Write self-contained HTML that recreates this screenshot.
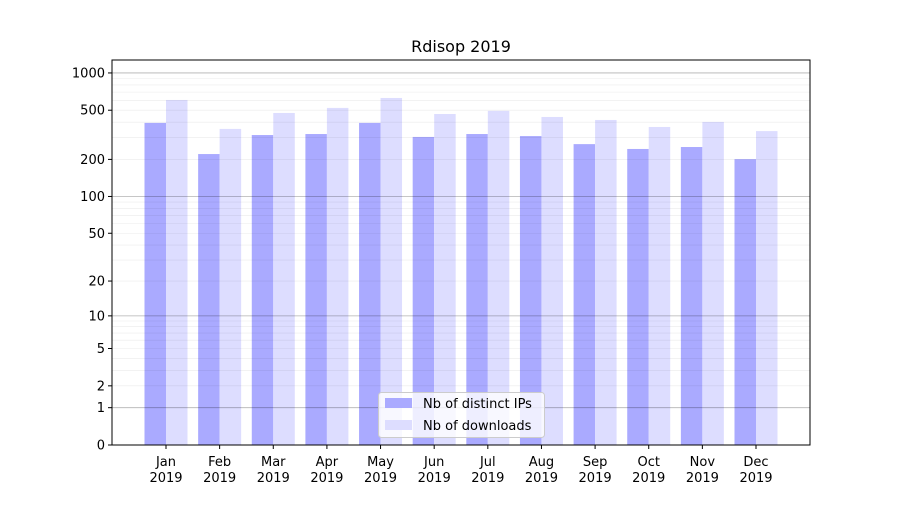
<!DOCTYPE html>
<html><head><meta charset="utf-8"><style>
body{margin:0;background:#fff;font-family:"Liberation Sans","DejaVu Sans",sans-serif;}
svg text{font-family:"DejaVu Sans","Liberation Sans",sans-serif;font-size:13px;fill:#000;}
</style></head><body>
<svg id="chart" width="900" height="500" xmlns="http://www.w3.org/2000/svg">
<rect width="900" height="500" fill="#fff"/>
<text x="461" y="52" text-anchor="middle" style="font-size:16px">Rdisop 2019</text>
<g id="bars"></g><g id="grid"></g><g id="axes"></g>
</svg>
<script>
const months = ["Jan","Feb","Mar","Apr","May","Jun","Jul","Aug","Sep","Oct","Nov","Dec"];
const ips = [395,221,315,321,395,304,321,309,266,243,252,201];
const downloads = [605,353,475,522,628,466,494,441,417,366,402,339];
const yTicks = [0,1,2,5,10,20,50,100,200,500,1000];
const NS="http://www.w3.org/2000/svg";
const L=112,R=810,T=60,B=445;
function y(v){return B-124*Math.log10(1+v);}
function x(i){return 166+i*(756-166)/11;}
function mk(tag,attrs,parent){const e=document.createElementNS(NS,tag);for(const k in attrs)e.setAttribute(k,attrs[k]);document.getElementById(parent).appendChild(e);return e;}
// grid
[1,10,100].forEach(d=>{for(let k=1;k<10;k++){const v=d*k;const yy=y(v);const major=k===1;
 const g=mk('line',{x1:L,x2:R,y1:yy,y2:yy,stroke:major?'#000':'#000','stroke-opacity':major?0.3:0.08,'stroke-width':major?0.8:0.6},'grid');
 
 }});
const g1000=mk('line',{x1:L,x2:R,y1:y(1000),y2:y(1000),stroke:'#000','stroke-opacity':0.3,'stroke-width':0.8},'grid');


// bars
const bw=21.5;
months.forEach((m,i)=>{
 const a=mk('rect',{x:x(i)-bw,y:y(ips[i]),width:bw,height:B-y(ips[i]),fill:'#aaaaff'},'bars');
 
 
 const b=mk('rect',{x:x(i),y:y(downloads[i]),width:bw,height:B-y(downloads[i]),fill:'#ddddff'},'bars');
 
 
 const t1=mk('line',{x1:x(i),x2:x(i),y1:B,y2:B+4,stroke:'#000'},'axes');
 
 
 const tx=mk('text',{x:x(i),y:B+21,'text-anchor':'middle'},'axes');tx.textContent=m;
 
 
 const ty=mk('text',{x:x(i),y:B+37,'text-anchor':'middle'},'axes');ty.textContent='2019';
 
 
});
yTicks.forEach(v=>{
 const t=mk('line',{x1:L-4,x2:L,y1:y(v),y2:y(v),stroke:'#000'},'axes');
 
 
 const tx=mk('text',{x:L-7,y:y(v)+4.5,'text-anchor':'end'},'axes');tx.textContent=v;
 
 
});
const fr=mk('rect',{x:L,y:T,width:R-L,height:B-T,fill:'none',stroke:'#000','stroke-width':1},'axes');


// legend
const lg=mk('rect',{x:378.5,y:392.5,width:166,height:45,rx:3,fill:'#fff','fill-opacity':0.8,stroke:'#ccc'},'axes');


[['#aaaaff','Nb of distinct IPs',398],['#ddddff','Nb of downloads',420]].forEach(([c,l,yy])=>{
 const s=mk('rect',{x:385,y:yy,width:27,height:10,fill:c},'axes');
 
 
 const t=mk('text',{x:423,y:yy+10},'axes');t.textContent=l;
 
 
});
</script>
</body></html>
